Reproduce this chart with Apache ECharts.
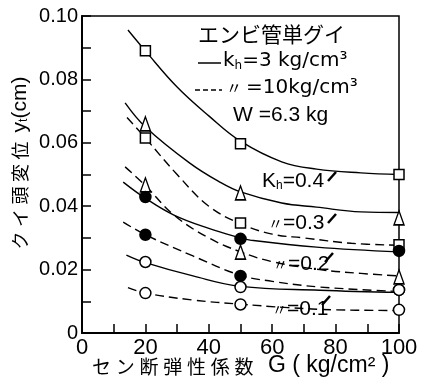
<!DOCTYPE html>
<html><head><meta charset="utf-8">
<script src="https://cdn.jsdelivr.net/npm/echarts@6/dist/echarts.min.js"></script>
<style>html,body{margin:0;padding:0;background:#fff}#c{width:422px;height:378px}</style>
</head><body><div id="c"></div>
<script>
// ---- axis ticks (labelled ticks; unlabelled ticks fall half-way between) ----
const xTicks = [0, 20, 40, 60, 80, 100];
const yTicks = [0, 0.02, 0.04, 0.06, 0.08, 0.10];

// ---- measured points (G = 20, 50, 100) ----
const G_pts = [20, 50, 100];
const sq_kh3  = [0.0890, 0.0597, 0.0500];  // Kh=0.4, kh=3
const sq_kh10 = [0.0615, 0.0347, 0.0278];  // Kh=0.4, kh=10
const tri_kh3  = [0.0660, 0.0442, 0.0363]; // Kh=0.3, kh=3
const tri_kh10 = [0.0467, 0.0255, 0.0177]; // Kh=0.3, kh=10
const dot_kh3  = [0.0429, 0.0297, 0.0259]; // Kh=0.2, kh=3
const dot_kh10 = [0.0310, 0.0180, 0.0136]; // Kh=0.2, kh=10
const ring_kh3  = [0.0224, 0.0145, 0.0136]; // Kh=0.1, kh=3
const ring_kh10 = [0.0126, 0.0090, 0.0073]; // Kh=0.1, kh=10

// ---- fitted curves ----
const c04s_G = [14.5, 20, 30, 40, 50, 63, 74, 88, 100];
const c04s_v = [0.0956, 0.0890, 0.0776, 0.0685, 0.0605, 0.0540, 0.0517, 0.0505, 0.0500];
const c03s_G = [13.6, 20, 34, 43.5, 50, 63, 74, 88, 100];
const c03s_v = [0.0726, 0.0650, 0.0536, 0.0476, 0.0445, 0.0410, 0.0397, 0.0382, 0.0380];
const c02s_G = [13, 20, 29, 40, 50, 53, 74, 100];
const c02s_v = [0.0476, 0.0425, 0.0372, 0.0330, 0.0300, 0.0293, 0.0271, 0.0256];
const c01s_G = [14, 20, 35, 50, 75, 100];
const c01s_v = [0.0246, 0.0222, 0.0180, 0.0147, 0.0135, 0.0128];
const c04d_G = [14.2, 20, 30, 40, 50, 60, 70, 85, 100];
const c04d_v = [0.0680, 0.0615, 0.0500, 0.0400, 0.0345, 0.0312, 0.0300, 0.0283, 0.0277];
const c03d_G = [13.6, 20, 29, 40, 50, 60, 75, 88, 100];
const c03d_v = [0.0524, 0.0465, 0.0372, 0.0300, 0.0256, 0.0225, 0.0200, 0.0188, 0.0180];
const c02d_G = [13, 20, 35, 50, 60, 75, 100];
const c02d_v = [0.0350, 0.0310, 0.0243, 0.0182, 0.0163, 0.0145, 0.0131];
const c01d_G = [14.5, 20, 35, 50, 65, 80, 100];
const c01d_v = [0.0143, 0.0126, 0.0104, 0.0091, 0.0080, 0.0073, 0.0071];

const zip = (a, b) => a.map((x, i) => [x, b[i]]);
const chart = echarts.init(document.getElementById('c'), null, {renderer: 'canvas'});

const curve = (G, v, dashed) => ({
  type: 'line', data: zip(G, v), smooth: 0.4, showSymbol: false, silent: true,
  lineStyle: {color: '#000', width: 1.4, type: dashed ? [9, 5] : 'solid'}, z: 2
});
const pts = (v, symbol, size, fill) => ({
  type: 'scatter', data: zip(G_pts, v), symbol: symbol, symbolSize: size, silent: true,
  itemStyle: {color: fill, borderColor: '#000', borderWidth: 1.5, opacity: 1}, z: 5
});

const NUMF = 'Liberation Sans';
const WIDE = 'DejaVu Sans';
const CJK = 'Noto Sans CJK JP';
const xStep = (xTicks[1] - xTicks[0]) / 2;
const yStep = (yTicks[1] - yTicks[0]) / 2;
const onTick = (v, list) => list.some(t => Math.abs(t - v) < 1e-9);

chart.setOption({
  animation: false,
  grid: {left: 82, top: 16, width: 317, height: 317, show: true, borderColor: '#000', borderWidth: 1.5, backgroundColor: 'transparent'},
  xAxis: {
    type: 'value', min: xTicks[0], max: xTicks[xTicks.length - 1], interval: xStep,
    axisLine: {lineStyle: {color: '#000', width: 2}},
    axisTick: {inside: true, length: 9, lineStyle: {color: '#000', width: 1.5}},
    splitLine: {show: false},
    axisLabel: {color: '#000', fontSize: 22, fontFamily: NUMF, margin: 4,
      formatter: v => (onTick(v, xTicks) ? String(v) : '')}
  },
  yAxis: {
    type: 'value', min: yTicks[0], max: yTicks[yTicks.length - 1], interval: yStep,
    axisLine: {lineStyle: {color: '#000', width: 2}},
    axisTick: {inside: true, length: 9, lineStyle: {color: '#000', width: 1.5}},
    splitLine: {show: false},
    axisLabel: {color: '#000', fontSize: 20, fontFamily: NUMF, margin: 4,
      formatter: v => (!onTick(v, yTicks) ? '' : (Math.abs(v) < 1e-9 ? '0' : v.toFixed(2)))}
  },
  series: [
    curve(c04s_G, c04s_v, false), curve(c03s_G, c03s_v, false),
    curve(c02s_G, c02s_v, false), curve(c01s_G, c01s_v, false),
    curve(c04d_G, c04d_v, true), curve(c03d_G, c03d_v, true),
    curve(c02d_G, c02d_v, true), curve(c01d_G, c01d_v, true),
    pts(sq_kh3, 'rect', 10, '#fff'), pts(sq_kh10, 'rect', 10, '#fff'),
    pts(tri_kh3, 'triangle', [10, 14], '#fff'), pts(tri_kh10, 'triangle', [10, 14], '#fff'),
    pts(dot_kh3, 'circle', 11, '#000'), pts(dot_kh10, 'circle', 11, '#000'),
    pts(ring_kh3, 'circle', 11, '#fff'), pts(ring_kh10, 'circle', 11, '#fff')
  ],
  graphic: [
    // legend block
    {type: 'text', left: 198, top: 24, style: {text: 'エンビ管単グイ', font: '21px "' + CJK + '"', fill: '#000'}},
    {type: 'line', shape: {x1: 198, y1: 63, x2: 221, y2: 63}, style: {stroke: '#000', lineWidth: 1.5}},
    {type: 'text', left: 223, top: 51, style: {text: '{a|k}{s|h}{a|=3 kg/cm³}', rich: {
      a: {fontSize: 20, fontFamily: WIDE, fill: '#000'}, s: {fontSize: 12, fontFamily: WIDE, padding: [10, 0, 0, 0]}}}},
    {type: 'line', shape: {x1: 195, y1: 90, x2: 222, y2: 90}, style: {stroke: '#000', lineWidth: 1.5, lineDash: [5, 3]}},
    {type: 'text', left: 226, top: 80, style: {text: '〃', font: '16px "' + CJK + '"', fill: '#000'}},
    {type: 'text', left: 246, top: 78, style: {text: '=10kg/cm³', font: '20px "' + WIDE + '"', fill: '#000'}},
    {type: 'text', left: 233, top: 105, style: {text: 'W =6.3 kg', font: '21px "' + NUMF + '"', fill: '#000'}},
    // curve labels
    {type: 'text', left: 262, top: 171, style: {text: '{a|K}{s|h}{a|=0.4}', rich: {
      a: {fontSize: 21, fontFamily: NUMF, fill: '#000'}, s: {fontSize: 12, fontFamily: NUMF, padding: [8, 0, 0, 0]}}}},
    {type: 'text', left: 268, top: 213, style: {text: '{c|〃}{a|=0.3}', rich: {
      a: {fontSize: 21, fontFamily: NUMF, fill: '#000'}, c: {fontSize: 15, fontFamily: CJK}}}},
    {type: 'text', left: 273, top: 254, style: {text: '{c|〃}{a|=0.2}', rich: {
      a: {fontSize: 21, fontFamily: NUMF, fill: '#000'}, c: {fontSize: 15, fontFamily: CJK}}}},
    {type: 'text', left: 272, top: 299, style: {text: '{c|〃}{a|=0.1}', rich: {
      a: {fontSize: 21, fontFamily: NUMF, fill: '#000'}, c: {fontSize: 15, fontFamily: CJK}}}},
    {type: 'line', shape: {x1: 328, y1: 181, x2: 336, y2: 172}, style: {stroke: '#000', lineWidth: 2.5}},
    {type: 'line', shape: {x1: 328, y1: 223, x2: 336, y2: 214}, style: {stroke: '#000', lineWidth: 2.5}},
    {type: 'line', shape: {x1: 325, y1: 262, x2: 333, y2: 253}, style: {stroke: '#000', lineWidth: 2.5}},
    {type: 'line', shape: {x1: 322, y1: 305, x2: 330, y2: 296}, style: {stroke: '#000', lineWidth: 2.5}},
    // axis titles
    {type: 'text', x: 20, y: 163, rotation: Math.PI / 2, style: {
      text: '{c|ク\u2005イ\u2005頭\u2005変\u2005位\u2002}{a|y}{s|t}{a|(cm)}', align: 'center', verticalAlign: 'middle', rich: {
        c: {fontSize: 18, fontFamily: CJK, fill: '#000'}, a: {fontSize: 21, fontFamily: NUMF, fill: '#000'},
        s: {fontSize: 12, fontFamily: NUMF, padding: [8, 0, 0, 0]}}}},
    {type: 'text', left: 92, top: 357, style: {
      text: 'セ\u2005ン\u2005断\u2005弾\u2005性\u2005係\u2005数', font: '19px "' + CJK + '"', fill: '#000'}},
    {type: 'text', left: 268, top: 354, style: {
      text: 'G ( kg/cm² )', font: '23px "' + NUMF + '"', fill: '#000'}}
  ]
});
</script>
</body></html>
